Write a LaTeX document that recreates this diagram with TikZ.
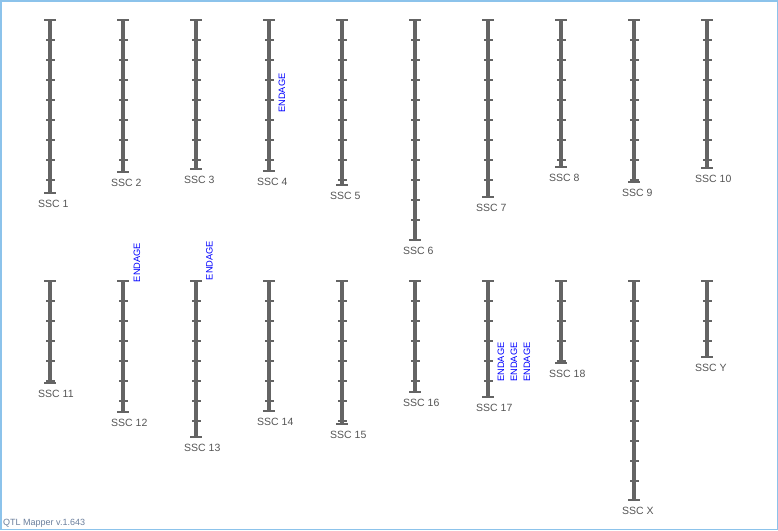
\documentclass[tikz,border=0pt]{standalone}
\usepackage{fontspec}
\setmainfont{Liberation Sans}
\definecolor{barc}{RGB}{100,100,100}
\definecolor{lblc}{RGB}{85,85,85}
\definecolor{framec}{RGB}{140,195,235}
\definecolor{footc}{RGB}{105,125,155}
\begin{document}
\begin{tikzpicture}[x=1pt,y=-1pt,
  chrbar/.style={line width=4.5pt, draw=barc},
  capline/.style={line width=1.6pt, draw=barc},
  tickline/.style={line width=1.2pt, draw=barc},
  ssclabel/.style={anchor=west, text=lblc, font=\fontsize{10.5}{12}\selectfont, inner sep=0pt},
  endage/.style={rotate=90, text=blue, font=\fontsize{9.3}{10}\selectfont, inner sep=0pt},
  footer/.style={anchor=west, text=footc, font=\fontsize{9}{10}\selectfont, inner sep=0pt}]
\useasboundingbox (0,0) rectangle (778,530);
\draw[framec, line width=1.5pt] (0.75,0.75) rectangle (777.25,529.25);
\foreach \id/\x/\top/\bot/\lab in {
  c1/50/20/193/SSC 1, c2/123/20/172/SSC 2, c3/196/20/169/SSC 3,
  c4/269/20/171/SSC 4, c5/342/20/185/SSC 5, c6/415/20/240/SSC 6,
  c7/488/20/197/SSC 7, c8/561/20/167/SSC 8, c9/634/20/182/SSC 9,
  c10/707/20/168/SSC 10,
  c11/50/281/383/SSC 11, c12/123/281/412/SSC 12, c13/196/281/437/SSC 13,
  c14/269/281/411/SSC 14, c15/342/281/424/SSC 15, c16/415/281/392/SSC 16,
  c17/488/281/397/SSC 17, c18/561/281/363/SSC 18, cx/634/281/500/SSC X,
  cy/707/281/357/SSC Y} {
  \coordinate (\id t) at (\x,\top);
  \coordinate (\id b) at (\x,\bot);
  \draw[chrbar] (\id t) -- (\id b);
  \pgfmathtruncatemacro\nt{(\bot-\top-1)/20}
  \foreach \k in {1,...,\nt} {
    \draw[tickline] (\x-4,\top+20*\k) -- (\x+5,\top+20*\k);
  }
  \draw[capline] ([xshift=-6pt]\id t) -- ([xshift=6pt]\id t);
  \draw[capline] ([xshift=-6pt]\id b) -- ([xshift=6pt]\id b);
  \node[ssclabel] (\id l) at (\x-12,\bot+10.8) {\lab};
}
\node[endage] (e4) at (282,93) {ENDAGE};
\node[endage] (e12) at (137,262.5) {ENDAGE};
\node[endage] (e13) at (209.5,260.5) {ENDAGE};
\node[endage] (e17a) at (501,362) {ENDAGE};
\node[endage] (e17b) at (514,362) {ENDAGE};
\node[endage] (e17c) at (527,362) {ENDAGE};
\node[footer] (foot) at (3,523) {QTL Mapper v.1.643};
\end{tikzpicture}
\end{document}
